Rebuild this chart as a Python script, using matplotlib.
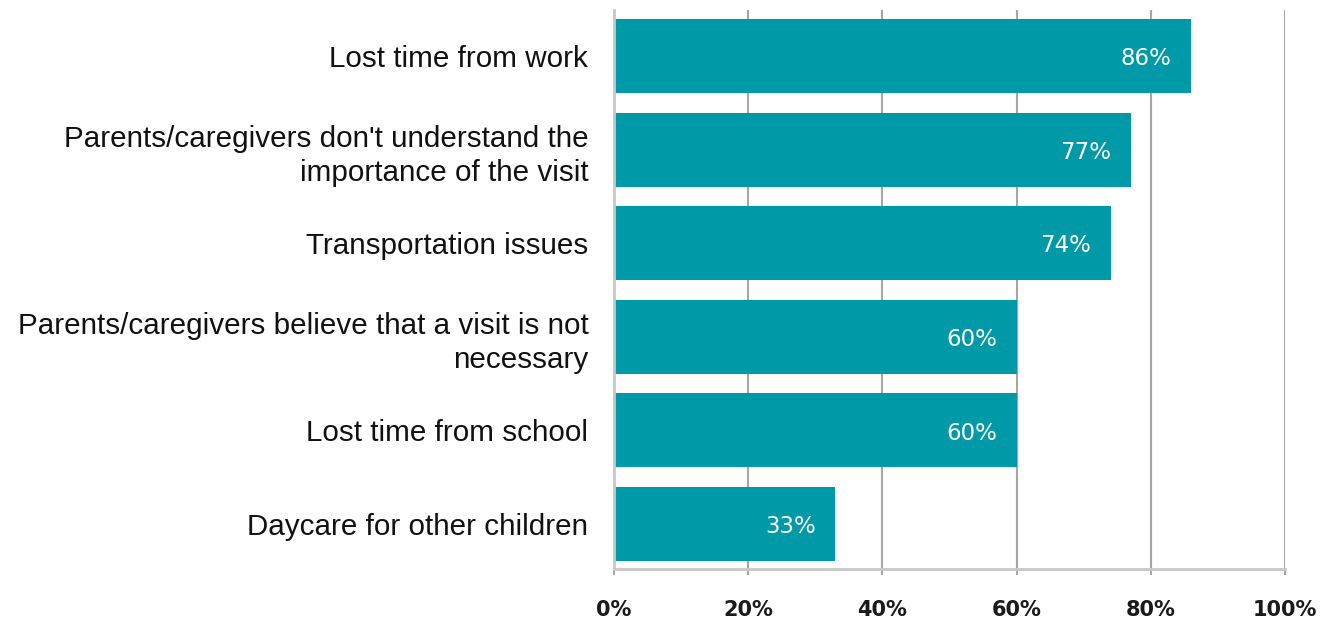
import matplotlib
matplotlib.use("Agg")
import matplotlib.pyplot as plt
from matplotlib.ticker import FuncFormatter

categories = [
    "Lost time from work",
    "Parents/caregivers don't understand the\nimportance of the visit",
    "Transportation issues",
    "Parents/caregivers believe that a visit is not\nnecessary",
    "Lost time from school",
    "Daycare for other children",
]
values = [86, 77, 74, 60, 60, 33]
ticks = [0, 20, 40, 60, 80, 100]

bar_color = "#0099a8"
grid_color = "#a6a6a6"

fig = plt.figure(figsize=(13.22, 6.19), dpi=100)
ax = fig.add_axes([614/1322, 1 - 569/619, (1285 - 614)/1322, (569 - 10)/619])

ypos = list(range(len(categories)))
ax.barh(ypos, values, height=0.79, color=bar_color, zorder=3)

ax.set_xlim(0, 100)
ax.set_ylim(5.48, -0.49)

ax.set_xticks(ticks)
ax.xaxis.set_major_formatter(FuncFormatter(lambda v, p: f"{int(v)}%"))
ax.tick_params(axis="x", length=4, color=grid_color, width=1.5, pad=18)
for lab in ax.get_xticklabels():
    lab.set_fontfamily("DejaVu Sans")
    lab.set_fontweight("bold")
    lab.set_fontsize(15)
    lab.set_color("#1a1a1a")

ax.set_yticks(ypos)
ax.set_yticklabels(categories, fontsize=21.3, family="Liberation Sans", color="#111111",
                   ha="right", multialignment="right", linespacing=1.28)
ax.tick_params(axis="y", length=0, pad=18.5)

ax.xaxis.grid(True, color=grid_color, linewidth=1.5, zorder=0)
ax.set_axisbelow(True)

for s in ["top", "right"]:
    ax.spines[s].set_visible(False)
for s in ["left", "bottom"]:
    ax.spines[s].set_color("#c8c8c8")
    ax.spines[s].set_linewidth(2)
    ax.spines[s].set_zorder(4)

for y, v in zip(ypos, values):
    ax.annotate(f"{v}%", xy=(v, y), xytext=(-14, -2), textcoords="offset points",
                ha="right", va="center", color="white", fontsize=16.5,
                family="DejaVu Sans", zorder=5)

fig.savefig("out.png", dpi=100)
